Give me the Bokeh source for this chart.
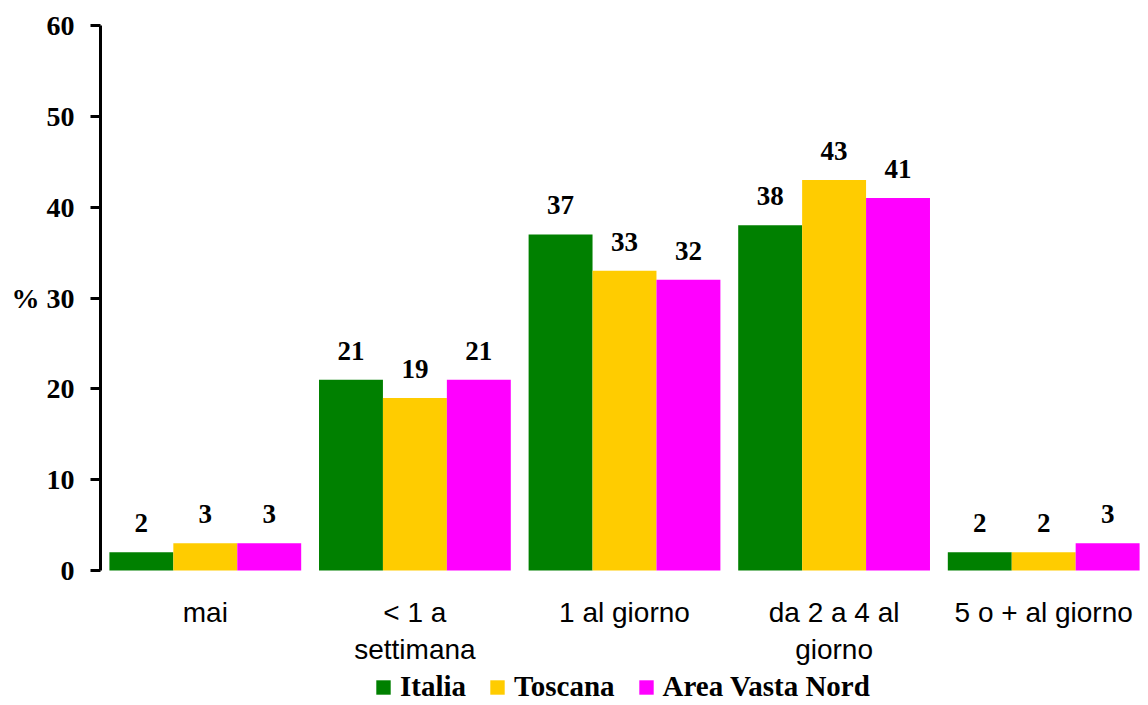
from bokeh.plotting import figure
from bokeh.models import ColumnDataSource, Range1d, FixedTicker, Legend, LegendItem
from bokeh.transform import dodge
from bokeh.core.properties import value
from bokeh.embed import file_html
from bokeh.resources import INLINE

categories = ["mai", "< 1 a\nsettimana", "1 al giorno", "da 2 a 4 al\ngiorno", "5 o + al giorno"]
series = ["Italia", "Toscana", "Area Vasta Nord"]
italia = [2, 21, 37, 38, 2]
toscana = [3, 19, 33, 43, 2]
area_vasta_nord = [3, 21, 32, 41, 3]
colors = ["#008000", "#FFCC00", "#FF00FF"]
y_ticks = [0, 10, 20, 30, 40, 50, 60]

src = ColumnDataSource(dict(
    cat=categories,
    zero=[0] * len(categories),
    italia=italia, toscana=toscana, avn=area_vasta_nord,
    italia_t=[str(v) for v in italia],
    toscana_t=[str(v) for v in toscana],
    avn_t=[str(v) for v in area_vasta_nord],
))

W, H = 1148, 705
top_px, zero_px = 25, 570
y_max = 60
y_min = y_max - (H - top_px) / (zero_px - top_px) * y_max

p = figure(width=W, height=H, x_range=categories, y_range=Range1d(y_min, y_max),
           output_backend="svg", toolbar_location=None,
           min_border_left=100, min_border_right=0, min_border_top=top_px, min_border_bottom=0)

bw = 0.305
offsets = [-bw, 0.0, bw]
cols = ["italia", "toscana", "avn"]
items = []
for name, col, off, c in zip(series, cols, offsets, colors):
    r = p.vbar(x=dodge("cat", off, range=p.x_range), top=col, bottom=0, width=bw, source=src,
               fill_color=c, line_color=None)
    p.text(x=dodge("cat", off, range=p.x_range), y=col, text=col + "_t", source=src,
           text_align="center", text_baseline="bottom", y_offset=-20,
           text_font=value("Liberation Serif"), text_font_style="bold",
           text_font_size="27px", text_color="black")
    items.append(LegendItem(label=name, renderers=[r]))

# category labels below the zero line
p.text(x="cat", y="zero", text="cat", source=src, text_align="center", text_baseline="top",
       y_offset=26, text_font=value("Liberation Sans"), text_font_size="28px",
       text_line_height=1.2, text_color="black")

p.xgrid.grid_line_color = None
p.ygrid.grid_line_color = None
p.outline_line_color = None
p.x_range.range_padding = 0
p.xaxis.visible = False

ya = p.yaxis[0]
ya.ticker = FixedTicker(ticks=y_ticks)
ya.bounds = (0, 60)
ya.axis_line_width = 3
ya.axis_line_color = "black"
ya.major_tick_line_width = 3
ya.major_tick_in = 0
ya.major_tick_out = 10
ya.minor_tick_line_color = None
ya.major_label_text_font = "Liberation Serif"
ya.major_label_text_font_style = "bold"
ya.major_label_text_font_size = "28px"
ya.major_label_text_color = "black"
ya.major_label_standoff = 16
ya.major_label_overrides = {30: "% 30"}

legend = Legend(items=items, orientation="horizontal", location=(274, 2),
                border_line_color=None, background_fill_alpha=0,
                label_text_font="Liberation Serif", label_text_font_style="bold",
                label_text_font_size="29px", label_text_color="black",
                glyph_width=18, glyph_height=18,
                spacing=22, label_standoff=8, padding=0, margin=0)
p.add_layout(legend, "center")

open("out.html", "w").write(file_html(p, INLINE))
